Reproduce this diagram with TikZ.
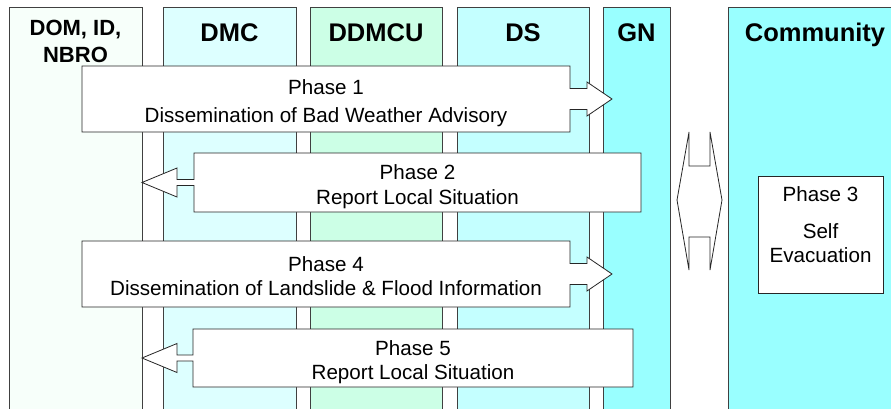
\documentclass[tikz,border=0pt]{standalone}
\usepackage{fontspec}
\setmainfont{Liberation Sans}
\usetikzlibrary{positioning,calc}
\definecolor{laneone}{HTML}{F7FFFA}
\definecolor{lanedmc}{HTML}{DDFFFF}
\definecolor{laneddmcu}{HTML}{CCFFE6}
\definecolor{laneds}{HTML}{C4FFFF}
\definecolor{lanegn}{HTML}{99FFFF}
\definecolor{laneedge}{HTML}{404040}
\tikzset{
  lane/.style={draw=laneedge, line width=0.9pt, anchor=north west, minimum height=430pt, inner sep=0pt, outer sep=0pt},
  lanehead/.style={anchor=north, inner sep=0pt, align=center, font=\fontsize{25.5}{27}\selectfont\bfseries},
  arrowbox/.style={draw=black!85, fill=white, line width=0.8pt},
  phasetext/.style={align=center, inner sep=0pt, text depth=0pt, font=\fontsize{20.6}{24.5}\selectfont},
}

\begin{document}
\begin{tikzpicture}[x=1pt, y=-1pt]
  \clip (0,0) rectangle (891,408);
  \fill[white] (0,0) rectangle (891,408);
  \foreach \x/\w/\c/\n in {9/133/laneone/dom,163/133/lanedmc/dmc,310/132/laneddmcu/ddmcu,457/132/laneds/ds,603/67/lanegn/gn,728/174/lanegn/comm}
    \node[lane, fill=\c, minimum width=\w pt] (\n) at (\x,7) {};
  \node[lanehead, font=\fontsize{22}{27}\selectfont\bfseries] (dom-head) at ([yshift=-13pt]dom.north) {DOM, ID,\\NBRO};
  \foreach \n/\lab in {dmc/DMC,ddmcu/DDMCU,ds/DS,gn/GN,comm/Community}
    \node[lanehead] (\n-head) at ([yshift=-16pt]\n.north) {\lab};

  \foreach \n/\t/\b/\sk/\lab in {1/66/132/4pt/Dissemination of Bad Weather Advisory,4/241/307/0pt/Dissemination of Landslide \& Flood Information}{
    \pgfmathsetmacro\m{(\t+\b)/2}
    \draw[arrowbox] (82,\t) -- (570,\t) -- (570,\m-10.5) -- (587,\m-10.5) -- (587,\m-17) -- (612,\m)
      -- (587,\m+17) -- (587,\m+10.5) -- (570,\m+10.5) -- (570,\b) -- (82,\b) -- cycle;
    \node[phasetext] (ph\n) at (326,\m+2) {Phase \n\\[\sk]\lab};
  }
  \foreach \n/\l/\r/\t/\b/\lab in {2/194/641/153/212/Report Local Situation,5/193/633/329/387/Report Local Situation}{
    \pgfmathsetmacro\m{(\t+\b)/2}
    \draw[arrowbox] (\r,\t) -- (\l,\t) -- (\l,\m-3) -- (177,\m-3) -- (177,\m-14.5) -- (142,\m)
      -- (177,\m+14.5) -- (177,\m+3) -- (\l,\m+3) -- (\l,\b) -- (\r,\b) -- cycle;
    \node[phasetext] (ph\n) at ({(\l+\r)/2},\m+2) {Phase \n\\\lab};
  }

  \draw[arrowbox] (689,132) -- (689,166) -- (710,166) -- (710,132) -- (722,200) -- (710,270)
    -- (710,237) -- (689,237) -- (689,270) -- (677,200) -- cycle;
  \node[draw=black!85, fill=white, line width=0.8pt, minimum width=125pt, minimum height=117pt] (ph3) at (820.5,234.5) {};
  \node[phasetext] (ph3-text) at (820.5,225) {Phase 3\\[12pt]Self\\Evacuation};
\end{tikzpicture}
\end{document}
